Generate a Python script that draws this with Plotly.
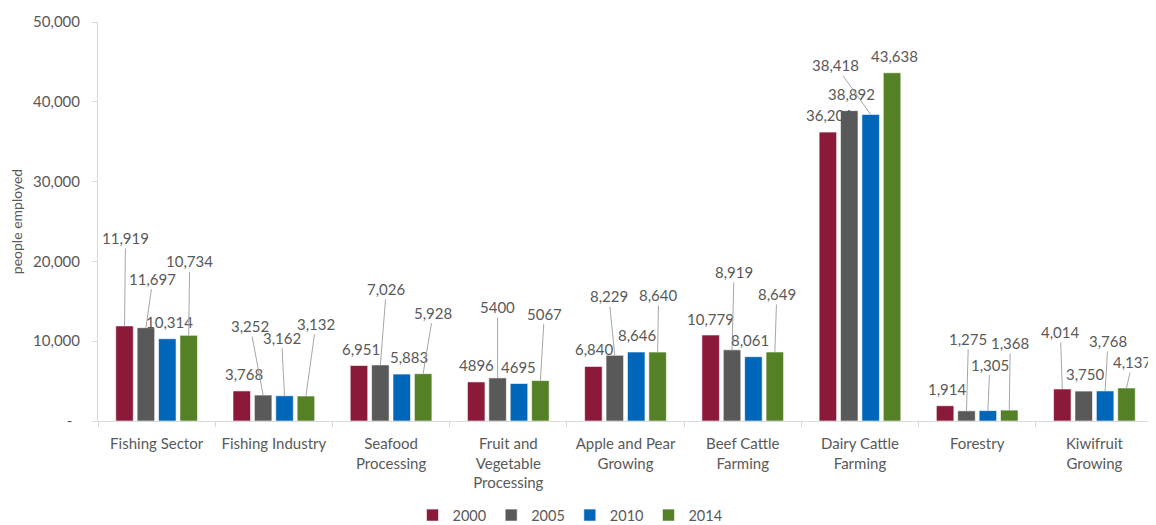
import plotly.graph_objects as go

categories = ["Fishing Sector", "Fishing Industry", "Seafood<br>Processing",
              "Fruit and<br>Vegetable<br>Processing", "Apple and Pear<br>Growing",
              "Beef Cattle<br>Farming", "Dairy Cattle<br>Farming", "Forestry",
              "Kiwifruit<br>Growing"]
years = ["2000", "2005", "2010", "2014"]

values_2000 = [11919, 3768, 6951, 4896, 6840, 10779, 36201, 1914, 4014]
values_2005 = [11697, 3252, 7026, 5400, 8229, 8919, 38892, 1275, 3750]
values_2010 = [10314, 3162, 5883, 4695, 8646, 8061, 38418, 1305, 3768]
values_2014 = [10734, 3132, 5928, 5067, 8640, 8649, 43638, 1368, 4137]

labels_2000 = ["11,919", "3,768", "6,951", "4896", "6,840", "10,779", "36,201", "1,914", "4,014"]
labels_2005 = ["11,697", "3,252", "7,026", "5400", "8,229", "8,919", "38,892", "1,275", "3,750"]
labels_2010 = ["10,314", "3,162", "5,883", "4695", "8,646", "8,061", "38,418", "1,305", "3,768"]
labels_2014 = ["10,734", "3,132", "5,928", "5067", "8,640", "8,649", "43,638", "1,368", "4,137"]

y_tick_vals = [0, 10000, 20000, 30000, 40000, 50000]
y_tick_text = ["-\u00a0\u00a0", "10,000", "20,000", "30,000", "40,000", "50,000"]

series_values = [values_2000, values_2005, values_2010, values_2014]
series_labels = [labels_2000, labels_2005, labels_2010, labels_2014]
colors = ["#8B1A3A", "#595959", "#0066B9", "#548126"]

# label placement (pixel offsets from bar top, whether a leader line is drawn)
label_offsets = [
    [(1, -88, True), (2, -17, False), (2, -17, False), (0, -17, False), (1, -17, False),
     (0, -16, False), (2, -17, False), (2, -17, False), (-2, -57, True)],
    [(7, -49, True), (-13, -69, True), (6, -76, True), (0, -71, True), (-6, -59, True),
     (2, -78, True), (2, -17, False), (2, -72, True), (2, -17, False)],
    [(2, -17, False), (-3, -58, True), (7, -17, False), (0, -17, False), (1, -17, False),
     (-3, -17, False), (-35, -49, True), (2, -46, True), (3, -50, True)],
    [(1, -74, True), (10, -72, True), (10, -61, True), (4, -67, True), (1, -57, True),
     (2, -58, True), (2, -17, False), (1, -67, True), (6, -26, True)],
]

FONT = "Lato"
TEXT = "#595959"
BARGAP = 0.27
slot = (1 - BARGAP) / len(years)

fig = go.Figure()
for j, yr in enumerate(years):
    fig.add_trace(go.Bar(
        name=yr, x=categories, y=series_values[j],
        marker=dict(color=colors[j], line=dict(color="white", width=0.6)),
    ))

annotations = []
for j in range(len(years)):
    for i in range(len(categories)):
        dx, dy, line = label_offsets[j][i]
        annotations.append(dict(
            x=i + (j - 1.5) * slot, y=series_values[j][i], xref="x", yref="y",
            text=series_labels[j][i], showarrow=True, ax=dx, ay=dy,
            arrowhead=0, arrowwidth=1, standoff=0,
            arrowcolor="#A6A6A6" if line else "rgba(0,0,0,0)",
            font=dict(family=FONT, size=15, color=TEXT),
        ))

fig.update_layout(
    width=1148, height=517,
    margin=dict(l=90, r=2, t=14, b=104, autoexpand=False),
    paper_bgcolor="white", plot_bgcolor="white",
    barmode="group", bargap=BARGAP, bargroupgap=0.18,
    font=dict(family=FONT, size=14, color=TEXT),
    annotations=annotations,
    legend=dict(orientation="h", x=0.447, xanchor="center", y=-0.236, yanchor="middle",
                font=dict(family=FONT, size=14.5, color=TEXT), itemwidth=30,
                traceorder="normal"),
    showlegend=True,
)
fig.update_xaxes(
    automargin=False,
    showline=True, linecolor="#D9D9D9", linewidth=1,
    ticks="outside", tickson="boundaries", ticklen=5, tickcolor="#D9D9D9",
    ticklabelstandoff=9,
    tickfont=dict(family=FONT, size=15, color=TEXT), showgrid=False,
)
fig.update_yaxes(
    automargin=False,
    range=[0, 50000], tickvals=y_tick_vals, ticktext=y_tick_text,
    showline=True, linecolor="#D9D9D9", linewidth=1,
    ticks="outside", ticklen=5, tickcolor="#D9D9D9", showgrid=False, zeroline=False,
    ticklabelstandoff=9,
    tickfont=dict(family=FONT, size=15, color=TEXT),
    title=dict(text="people employed", font=dict(family=FONT, size=14, color=TEXT), standoff=11),
)

fig.write_html("out.html")
